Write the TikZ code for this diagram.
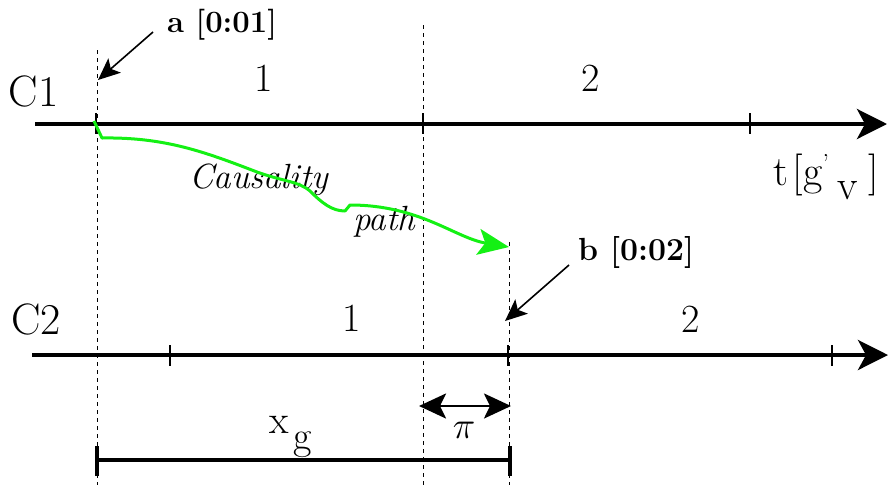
\documentclass[tikz,border=0pt]{standalone}
\usepackage{fix-cm}
\usepackage{fontspec}
\usetikzlibrary{arrows.meta}
\definecolor{pathgreen}{RGB}{20,240,20}
\tikzset{
  axisline/.style={line width=4pt, -{Stealth[length=30pt,width=30pt,inset=8pt]}},
  tickmark/.style={line width=1.2pt},
  guide/.style={line width=1pt, dash pattern=on 4pt off 4pt},
  pointer/.style={line width=1.6pt, -{Stealth[length=22pt,width=19pt,inset=5pt]}},
  causal/.style={line width=3pt, pathgreen, line join=round, -{Stealth[length=31pt,width=26pt,inset=7pt]}},
  dimline/.style={line width=2.6pt, {Stealth[length=27pt,width=25pt,inset=6pt]}-{Stealth[length=27pt,width=25pt,inset=6pt]}},
  barline/.style={line width=4pt},
  lbl/.style={inner sep=0pt, outer sep=0pt, anchor=base west},
  lblc/.style={inner sep=0pt, outer sep=0pt, anchor=base},
}
\newcommand{\fs}[1]{\fontsize{#1}{#1}\selectfont}
\begin{document}
\begin{tikzpicture}[x=1pt,y=-1pt]
\useasboundingbox (0,0) rectangle (890,485);
% coordinates
\coordinate (c1s) at (35,124);
\coordinate (c1e) at (887,124);
\coordinate (c2s) at (32,355);
\coordinate (c2e) at (888,355);
\coordinate (ga) at (97,50);
\coordinate (gae) at (97,485);
\coordinate (gb) at (423,25);
\coordinate (gbe) at (423,485);
\coordinate (gc) at (509,242);
\coordinate (gce) at (509,485);
% guides
\draw[guide] (ga) -- (gae);
\draw[guide] (gb) -- (gbe);
\draw[guide] (gc) -- (gce);
% ticks C1
\foreach \x in {96,423,750}{\draw[tickmark] (\x,113) -- (\x,134);}
% ticks C2
\foreach \x in {170,508,832}{\draw[tickmark] (\x,345) -- (\x,366);}
% axes
\draw[axisline] (c1s) -- (c1e);
\draw[axisline] (c2s) -- (c2e);
% labels
\node[lbl] (C1) at (9,106) {\fs{44}C1};
\node[lbl] (C2) at (11,334) {\fs{44}C2};
\node[lblc] (n11) at (264,91) {\fs{40}1};
\node[lblc] (n12) at (591,91) {\fs{40}2};
\node[lblc] (n21) at (352,331) {\fs{40}1};
\node[lblc] (n22) at (691,332) {\fs{40}2};
\node[lbl] (ta) at (167,32) {\fs{31}\bfseries a [0:01]};
\node[lbl] (tb) at (578,260) {\fs{32}\bfseries b [0:02]};
\node[lbl] (tt) at (773,185) {\fs{42}t\hspace{5pt}[g\raisebox{13pt}{\fs{26}'}\hspace{8pt}\raisebox{-14pt}{v}\hspace{11pt}]};
\node[lbl] (caus) at (189,188) {\fs{35}\itshape Causality};
\node[lbl] (pth) at (353,230) {\fs{35}\itshape path};
\node[lbl] (xg) at (269,433) {\fs{40}x\hspace{5pt}\raisebox{-16pt}{g}};
\node[lblc] (pi) at (464,438) {\fs{38}$\pi$};
% pointers
\coordinate (pa1) at (153,32);
\coordinate (pa2) at (98,80);
\coordinate (pb1) at (569,265);
\coordinate (pb2) at (505,321);
\draw[pointer] (pa1) -- (pa2);
\draw[pointer] (pb1) -- (pb2);
% causality path
\coordinate (cp0) at (94,121);
\coordinate (cp1) at (102,138);
\coordinate (cp2) at (257,172);
\coordinate (cp3) at (310,191);
\coordinate (cp4) at (345,211);
\coordinate (cp5) at (350,205);
\coordinate (cp6) at (509,247);
\draw[causal] (cp0) -- (cp1) .. controls (165,137) and (205,152) .. (cp2)
  .. controls (285,182) and (298,181) .. (cp3)
  .. controls (322,203) and (332,211) .. (cp4) -- (cp5)
  .. controls (420,205) and (455,238) .. (cp6);
% dimension pi
\coordinate (d1) at (419,406);
\coordinate (d2) at (511,406);
\draw[dimline] (d1) -- (d2);
% x_g bar
\coordinate (b1) at (97,460);
\coordinate (b2) at (510,460);
\draw[barline] (b1) -- (b2);
\draw[barline] ([yshift=-16pt]b1) -- ([yshift=14pt]b1);
\draw[barline] ([yshift=-16pt]b2) -- ([yshift=14pt]b2);
\end{tikzpicture}
\end{document}
